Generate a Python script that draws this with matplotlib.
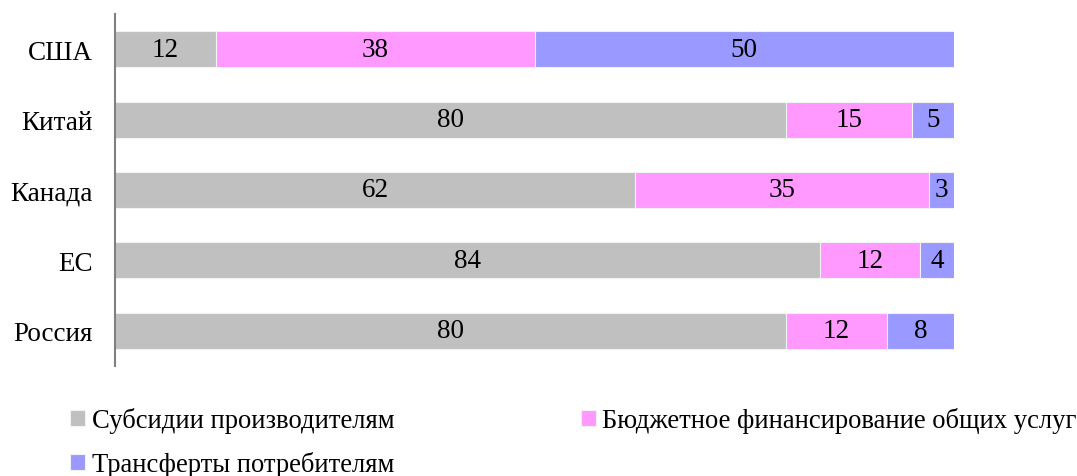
import numpy as np
import matplotlib
matplotlib.use("Agg")
from matplotlib import pyplot as plt

countries = ["США", "Китай", "Канада", "ЕС", "Россия"]
producers = [12, 80, 62, 84, 80]
services = [38, 15, 35, 12, 12]
consumers = [50, 5, 3, 4, 8]
series_names = ["Субсидии производителям",
                "Бюджетное финансирование общих услуг",
                "Трансферты потребителям"]
colors = ["#C0C0C0", "#FF99FF", "#9999FF"]

plt.rcParams['font.family'] = ['Liberation Serif', 'DejaVu Serif']
fs = 19.5

fig = plt.figure(figsize=(10.77, 4.77), dpi=100)
ax = fig.add_axes([0.1068, 0.2306, 0.779, 0.738])

y = np.arange(len(countries))
left = np.zeros(len(countries))
handles = []
for vals, name, c in zip([producers, services, consumers], series_names, colors):
    bars = ax.barh(y, vals, left=left, height=0.51, color=c, label=name,
                   edgecolor="#F2F2F2", linewidth=0.8)
    handles.append(bars)
    for i, v in enumerate(vals):
        ax.text(left[i] + v / 2, y[i], str(v), ha="center", va="center", fontsize=fs)
    left = left + np.array(vals)

ax.set_xlim(0, 100)
ax.set_ylim(len(countries) - 0.5, -0.5)
ax.set_yticks(y)
ax.set_yticklabels(countries, fontsize=fs)
ax.tick_params(axis="y", length=0, pad=16)
ax.set_xticks([])
for s in ["top", "right", "bottom"]:
    ax.spines[s].set_visible(False)
ax.spines["left"].set_color("#808080")
ax.spines["left"].set_linewidth(1.5)

# row-wise order: column 1 gets items 0 and 2, column 2 gets item 1
order = [0, 2, 1]
fig.legend([handles[i] for i in order], [series_names[i] for i in order],
           loc="upper left", bbox_to_anchor=(0.053, 0.172), ncol=2, frameon=False,
           fontsize=19.2, handlelength=0.55, handleheight=0.55, handletextpad=0.25,
           columnspacing=7.0, labelspacing=0.68, borderpad=0)

plt.savefig("out.png", dpi=100)
